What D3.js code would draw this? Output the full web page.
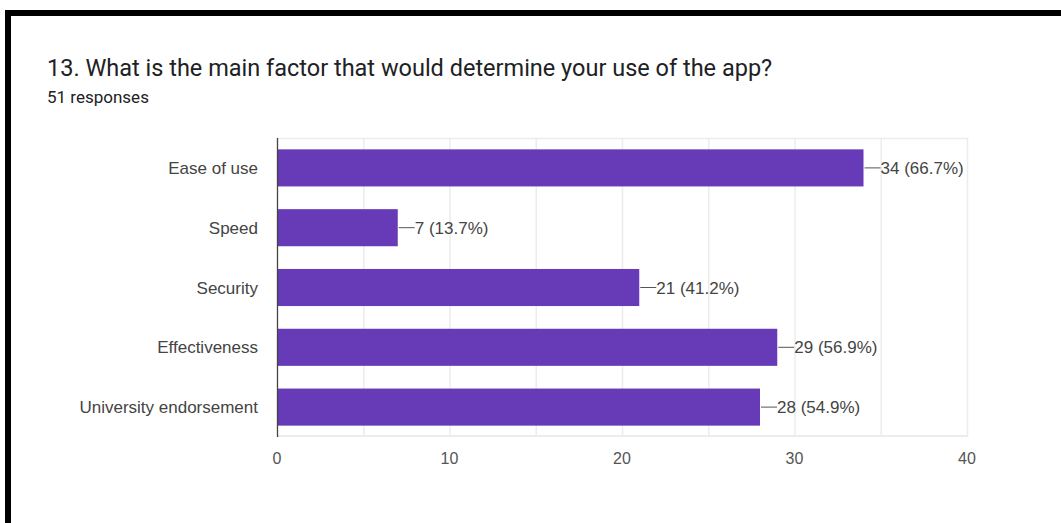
<!DOCTYPE html>
<html><head><meta charset="utf-8">
<script src="https://cdn.jsdelivr.net/npm/d3@7"></script>
<style>
html,body{margin:0;padding:0;background:#fff;}
svg{display:block;}
</style></head>
<body>
<svg id="c" width="1061" height="523"></svg>
<script>
const categories = ["Ease of use","Speed","Security","Effectiveness","University endorsement"];
const counts = [34, 7, 21, 29, 28];
const percents = ["66.7%","13.7%","41.2%","56.9%","54.9%"];
const xTicks = [0,10,20,30,40];
const gridTicks = [5,10,15,20,25,30,35,40];
const title = "13. What is the main factor that would determine your use of the app?";
const subtitle = "51 responses";

(function(){
const svg = d3.select("#c");
const LF = "'Liberation Sans', Arial, sans-serif";
const RF = "Roboto, Arial, sans-serif";
// frame
svg.append("rect").attr("x",5).attr("y",10).attr("width",1056).attr("height",6).attr("fill","#000");
svg.append("rect").attr("x",5).attr("y",10).attr("width",6).attr("height",513).attr("fill","#000");

svg.append("text").attr("x",47).attr("y",76).text(title)
  .attr("font-family",RF).attr("font-size",23.5).attr("fill","#202124");
svg.append("text").attr("x",47).attr("y",103).text(subtitle)
  .attr("font-family",RF).attr("font-size",17).attr("fill","#202124");

const pL = 277, pR = 967, pT = 138, pB = 437;
const x = d3.scaleLinear().domain([0,40]).range([pL,pR]);
const y = d3.scaleBand().domain(categories).range([pT,pB]).paddingInner(0.38).paddingOuter(0.19);

const g = svg.append("g");
// grid
g.selectAll("line.grid").data(gridTicks).join("line")
  .attr("x1",d=>x(d)+0.5).attr("x2",d=>x(d)+0.5).attr("y1",pT).attr("y2",pB)
  .attr("stroke","#ececec").attr("stroke-width",1.5);
g.append("line").attr("x1",pL).attr("x2",pR).attr("y1",pT+0.5).attr("y2",pT+0.5).attr("stroke","#ececec").attr("stroke-width",1.5);
g.append("line").attr("x1",pL).attr("x2",pR).attr("y1",pB-1).attr("y2",pB-1).attr("stroke","#ececec").attr("stroke-width",2);

// bars
g.selectAll("rect.bar").data(categories).join("rect")
  .attr("x",x(0)).attr("y",d=>y(d)).attr("width",(d,i)=>x(counts[i])-x(0)).attr("height",y.bandwidth())
  .attr("fill","#673ab7");

// axis line
g.append("line").attr("x1",pL+0.5).attr("x2",pL+0.5).attr("y1",pT).attr("y2",pB)
  .attr("stroke","#444").attr("stroke-width",1.3);

// leader lines & labels
categories.forEach((c,i)=>{
  const cy = y(c)+y.bandwidth()/2;
  const xe = x(counts[i]);
  g.append("line").attr("x1",xe+1).attr("x2",xe+17).attr("y1",cy).attr("y2",cy).attr("stroke","#555").attr("stroke-width",1);
  g.append("text").attr("x",xe+17).attr("y",cy+6).text(counts[i]+" ("+percents[i]+")")
    .attr("font-family",LF).attr("font-size",17).attr("fill","#444");
});

// category labels
g.selectAll("text.cat").data(categories).join("text")
  .attr("x",258).attr("y",d=>y(d)+y.bandwidth()/2+6).attr("text-anchor","end")
  .attr("font-family",LF).attr("font-size",17).attr("fill","#444").text(d=>d);

// x tick labels
g.selectAll("text.tick").data(xTicks).join("text")
  .attr("x",d=>x(d)).attr("y",464).attr("text-anchor","middle")
  .attr("font-family",LF).attr("font-size",16).attr("fill","#555").text(d=>d);
})();
</script>
</body></html>
